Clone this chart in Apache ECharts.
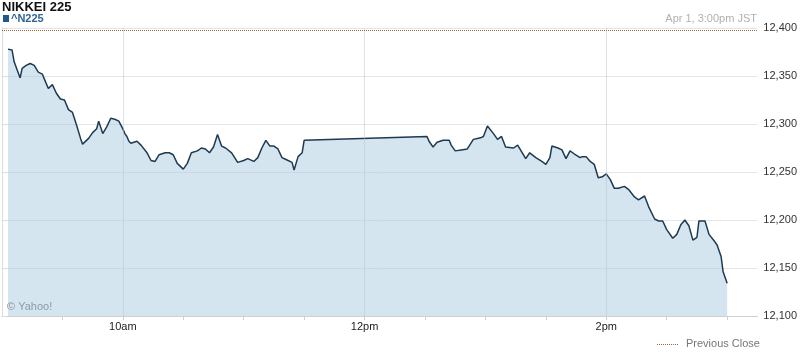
<!DOCTYPE html>
<html>
<head>
<meta charset="utf-8">
<style>html,body{margin:0;padding:0;background:#fff;}#c{width:800px;height:355px;}</style>
<script src="https://cdn.jsdelivr.net/npm/echarts@6/dist/echarts.min.js"></script>
</head>
<body>
<div id="c"></div>
<script>
var title = "NIKKEI 225";
var symbolName = "^N225";
var stamp = "Apr 1, 3:00pm JST";
var previousClose = 12397.91;
var yTicks = [12100, 12150, 12200, 12250, 12300, 12350, 12400];
var xTickLabels = {"10:00": "10am", "12:00": "12pm", "14:00": "2pm"};
var times = ["9:03","9:05","9:06","9:09","9:10","9:12","9:14","9:16","9:18","9:20","9:21","9:23","9:25","9:27","9:29","9:31","9:33","9:35","9:37","9:39","9:40","9:43","9:45","9:47","9:48","9:50","9:52","9:54","9:56","9:58",
"10:00","10:01","10:02","10:03","10:04","10:07","10:09","10:12","10:14","10:16","10:18","10:21","10:23","10:25","10:27","10:30","10:32","10:34","10:37","10:39","10:41","10:43","10:45","10:47","10:49","10:51","10:54","10:57",
"11:00","11:02","11:05","11:07","11:09","11:11","11:13","11:15","11:17","11:19","11:21","11:24","11:25","11:27","11:29","11:30",
"12:31","12:32","12:34","12:36","12:39","12:42","12:43","12:45","12:48","12:51","12:54","12:56","12:58","12:59",
"13:01","13:04","13:06","13:08","13:10","13:14","13:16","13:18","13:20","13:22","13:25","13:28","13:30","13:32","13:33","13:36","13:38","13:40","13:42","13:44","13:47","13:48","13:50","13:52","13:54","13:56","13:58",
"14:00","14:02","14:04","14:06","14:09","14:11","14:14","14:16","14:19","14:21","14:24","14:26","14:28","14:30","14:33","14:35","14:37","14:39","14:41","14:43","14:45","14:46","14:49","14:51","14:54","14:55","14:57","14:58","15:00"];
var prices = [12378,12377,12365,12348,12358,12361,12363,12361,12354,12352,12347,12337,12341,12332,12326,12325,12315,12312,12299,12285,12279,12285,12291,12295,12303,12290,12297,12306,12305,12303,
12295,12290,12287,12282,12280,12282,12278,12270,12262,12261,12268,12270,12270,12268,12259,12253,12259,12270,12272,12275,12274,12270,12276,12289,12277,12275,12270,12260,
12262,12264,12261,12265,12275,12283,12277,12277,12274,12265,12263,12260,12252,12266,12270,12283,
12287,12282,12276,12281,12283,12283,12278,12272,12273,12274,12284,12285,12286,12287,
12298,12290,12284,12287,12276,12275,12278,12271,12264,12270,12265,12261,12258,12265,12277,12275,12273,12264,12272,12269,12265,12266,12266,12261,12258,12244,12245,
12248,12242,12233,12233,12235,12232,12224,12221,12225,12214,12201,12199,12199,12190,12181,12185,12195,12200,12194,12179,12182,12199,12199,12185,12177,12174,12162,12146,12134];

function toMin(t){ var p = t.split(":"); return (parseInt(p[0],10) - 9) * 60 + parseInt(p[1],10); }
function fmtNum(v){ return String(v).replace(/\B(?=(\d{3})+(?!\d))/g, ","); }
var labelMap = {};
Object.keys(xTickLabels).forEach(function(k){ labelMap[toMin(k)] = xTickLabels[k]; });
var data = times.map(function(t, i){ return [toMin(t), prices[i]]; });
var gridTimes = Object.keys(xTickLabels).map(function(k){ return {xAxis: toMin(k)}; });

var FONT = "Arial, 'Liberation Sans', sans-serif";
var chart = echarts.init(document.getElementById('c'), null, {renderer: 'canvas'});
chart.setOption({
  animation: false,
  backgroundColor: '#fff',
  textStyle: {fontFamily: FONT},
  grid: {left: 2, right: 42, top: 28, bottom: 39, containLabel: false},
  graphic: [
    {type: 'text', left: 2, top: 1, style: {text: title, font: 'bold 13px ' + FONT, fill: '#111'}},
    {type: 'rect', shape: {x: 3, y: 15, width: 6, height: 7}, style: {fill: '#1f5a8a'}},
    {type: 'text', left: 11, top: 13, style: {text: symbolName, font: 'bold 11px ' + FONT, fill: '#2f6495'}},
    {type: 'text', right: 43, top: 13, style: {text: stamp, font: '11px ' + FONT, fill: '#b0b0b0'}},
    {type: 'text', left: 7, top: 301, style: {text: '\u00a9 Yahoo!', font: '11px ' + FONT, fill: '#6a6a6a'}},
    {type: 'line', shape: {x1: 657, y1: 344.5, x2: 678, y2: 344.5}, style: {stroke: '#a0663c', lineWidth: 1, lineDash: [1, 1]}},
    {type: 'text', left: 686, top: 338, style: {text: 'Previous Close', font: '11px ' + FONT, fill: '#777'}}
  ],
  xAxis: {
    type: 'value', min: 0, max: 375, interval: 30,
    axisLine: {show: true, lineStyle: {color: '#cfcfcf'}},
    axisTick: {show: true, length: 4, lineStyle: {color: '#cfcfcf'}},
    splitLine: {show: false},
    axisLabel: {show: true, margin: 5, color: '#222', fontSize: 11, fontFamily: FONT,
      formatter: function(v){ return labelMap[v] || ''; }, showMaxLabel: false, showMinLabel: false}
  },
  yAxis: [{
    type: 'value', position: 'right', min: 12100, max: 12400, interval: 50,
    axisLine: {show: true, lineStyle: {color: '#dcdcdc'}},
    axisTick: {show: true, length: 5, lineStyle: {color: '#dcdcdc'}},
    splitLine: {show: true, lineStyle: {color: '#e6e6e6'}},
    axisLabel: {margin: 6, color: '#333', fontSize: 11, fontFamily: FONT,
      formatter: function(v){ return yTicks.indexOf(v) >= 0 ? fmtNum(v) : ''; }}
  }, {
    type: 'value', position: 'left', min: 12100, max: 12400, interval: 50,
    axisLine: {show: true, lineStyle: {color: '#dcdcdc'}},
    axisTick: {show: false}, axisLabel: {show: false}, splitLine: {show: false}
  }],
  series: [{
    type: 'line', data: data, yAxisIndex: 0, showSymbol: false, symbol: 'none',
    lineStyle: {color: '#1d3a52', width: 1.5},
    areaStyle: {color: 'rgba(170,203,226,0.5)', opacity: 1, origin: 'start'},
    markLine: {
      silent: true, symbol: 'none', label: {show: false}, animation: false,
      data: gridTimes.map(function(d){ return Object.assign({lineStyle: {color: 'rgba(180,190,200,0.45)', type: 'solid', width: 1}}, d); })
        .concat([{yAxis: previousClose, lineStyle: {color: '#a0663c', type: [1, 1], width: 1}}])
    }
  }]
});
</script>
</body>
</html>
